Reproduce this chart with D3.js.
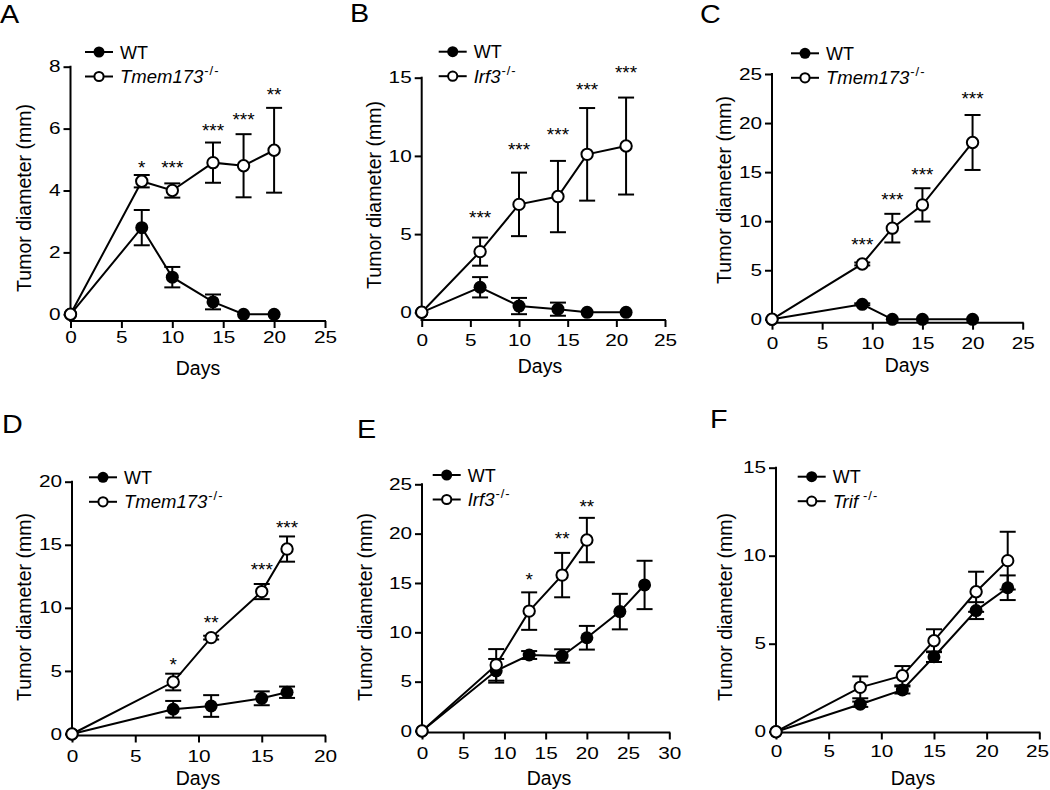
<!DOCTYPE html>
<html><head><meta charset="utf-8">
<script src="https://cdn.jsdelivr.net/npm/d3@7"></script>
<style>body{margin:0;background:#fff} svg{display:block}</style>
</head><body>
<svg id="chart" width="1050" height="790"></svg>
<script>
// ---------- DATA ----------
// Panel A
const daysA = [0, 7, 10, 14, 17, 20];
const wtA = [0, 2.8, 1.2, 0.4, 0, 0];
const wtSemA = [0, 0.57, 0.33, 0.24, 0, 0];
const koA = [0, 4.3, 4.0, 4.9, 4.8, 5.3];
const koSemA = [0, 0.2, 0.23, 0.65, 1.02, 1.37];
const starsA = ["", "*", "***", "***", "***", "**"];
const starLevelA = [null, 4.9, 4.9, 6.1, 6.45, 7.25];
// Panel B
const daysB = [0, 6, 10, 14, 17, 21];
const wtB = [0, 1.6, 0.4, 0.2, 0, 0];
const wtSemB = [0, 0.65, 0.52, 0.42, 0, 0];
const koB = [0, 3.88, 6.9, 7.4, 10.1, 10.63];
const koSemB = [0, 0.9, 2.03, 2.28, 2.96, 3.1];
const starsB = ["", "***", "***", "***", "***", "***"];
const starLevelB = [null, 6.33, 10.7, 11.66, 14.53, 15.6];
// Panel C
const daysC = [0, 9, 12, 15, 20];
const wtC = [0, 1.53, 0, 0, 0];
const wtSemC = [0, 0.1, 0, 0, 0];
const koC = [0, 5.64, 9.29, 11.66, 18.02];
const koSemC = [0, 0.15, 1.46, 1.7, 2.8];
const starsC = ["", "***", "***", "***", "***"];
const starLevelC = [null, 8.09, 12.68, 15.23, 22.96];
// Panel D
const daysD = [0, 8, 11, 15, 17];
const wtD = [0, 1.96, 2.22, 2.83, 3.31];
const wtSemD = [0, 0.66, 0.86, 0.55, 0.45];
const koD = [0, 4.12, 7.64, 11.29, 14.66];
const koSemD = [0, 0.66, 0.15, 0.6, 1.0];
const starsD = ["", "*", "**", "***", "***"];
const starLevelD = [null, 5.87, 9.18, 13.36, 16.72];
// Panel E
const wtDaysE = [0, 9, 13, 17, 20, 24, 27];
const wtE = [0, 6.1, 7.7, 7.6, 9.45, 12.1, 14.8];
const wtSemE = [0, 1.2, 0.4, 0.68, 1.2, 1.8, 2.45];
const koDaysE = [0, 9, 13, 17, 20];
const koE = [0, 6.7, 12.15, 15.8, 19.35];
const koSemE = [0, 1.6, 1.9, 2.25, 2.25];
const starsE = ["", "", "*", "**", "**"];
const starLevelE = [null, null, 15.8, 19.96, 23.23];
// Panel F
const daysF = [0, 8, 12, 15, 19, 22];
const wtF = [0, 1.56, 2.37, 4.26, 6.88, 8.18];
const wtSemF = [0, 0.15, 0.2, 0.3, 0.48, 0.7];
const koF = [0, 2.52, 3.18, 5.17, 7.95, 9.72];
const koSemF = [0, 0.62, 0.55, 0.65, 1.14, 1.64];
const starsF = ["", "", "", "", "", ""];
const starLevelF = [null, null, null, null, null, null];

const panelLetters = ["A", "B", "C", "D", "E", "F"];
const koNames = ["Tmem173", "Irf3", "Tmem173", "Tmem173", "Irf3", "Trif"];
const koSup = "-/-";
const wtName = "WT";
const yTitle = "Tumor diameter (mm)";
const xTitle = "Days";
const xMaxes = [25, 25, 25, 20, 30, 25];
const yMaxes = [8, 15, 25, 20, 25, 15];
const yStepsArr = [2, 5, 5, 5, 5, 5];

const panels = [
  {wtDays: daysA, wt: wtA, wtSem: wtSemA, koDays: daysA, ko: koA, koSem: koSemA, stars: starsA, levels: starLevelA},
  {wtDays: daysB, wt: wtB, wtSem: wtSemB, koDays: daysB, ko: koB, koSem: koSemB, stars: starsB, levels: starLevelB},
  {wtDays: daysC, wt: wtC, wtSem: wtSemC, koDays: daysC, ko: koC, koSem: koSemC, stars: starsC, levels: starLevelC},
  {wtDays: daysD, wt: wtD, wtSem: wtSemD, koDays: daysD, ko: koD, koSem: koSemD, stars: starsD, levels: starLevelD},
  {wtDays: wtDaysE, wt: wtE, wtSem: wtSemE, koDays: koDaysE, ko: koE, koSem: koSemE, stars: starsE, levels: starLevelE},
  {wtDays: daysF, wt: wtF, wtSem: wtSemF, koDays: daysF, ko: koF, koSem: koSemF, stars: starsF, levels: starLevelF}
];

// ---------- LAYOUT ----------
const layouts = [
  {left: 70.5, right: 325, yTop: 66.7, yZero: 314.3, axisY: 321, xPad: 4, letterX: 0, letterY: 23, legX: 99, legY: 52, titleX: 31, titleY: 198, daysX: 198, daysY: 375},
  {left: 421.7, right: 665, yTop: 77.7, yZero: 312.3, axisY: 320, xPad: 8, letterX: 350, letterY: 22, legX: 452.7, legY: 51.7, titleX: 381, titleY: 195, daysX: 540, daysY: 373},
  {left: 772, right: 1022.7, yTop: 74, yZero: 319.3, axisY: 322.7, xPad: 8, letterX: 700, letterY: 23, legX: 805, legY: 53.3, titleX: 731, titleY: 190, daysX: 907, daysY: 372},
  {left: 72, right: 325, yTop: 481.7, yZero: 734, axisY: 735.5, xPad: 8, letterX: 2, letterY: 433, legX: 103, legY: 477.3, titleX: 31, titleY: 607, daysX: 198, daysY: 785},
  {left: 422, right: 669.3, yTop: 484.3, yZero: 731, axisY: 732.5, xPad: 8, letterX: 357, letterY: 438, legX: 446.7, legY: 475, titleX: 372, titleY: 607, daysX: 549, daysY: 785},
  {left: 776, right: 1039.3, yTop: 467.7, yZero: 731.7, axisY: 732.5, xPad: 6, letterX: 710, letterY: 428, legX: 811.7, legY: 476.7, titleX: 732, titleY: 607, daysX: 913, daysY: 785}
];

const FONT = "'Liberation Sans', Arial, Helvetica, sans-serif";
const SX = 1.3; // horizontal stretch of tick labels
const W = 1050;
const svg = d3.select("#chart");

panels.forEach((p, i) => {
  const L = layouts[i];
  const xMax = xMaxes[i], yMax = yMaxes[i], yStep = yStepsArr[i];
  const x = d3.scaleLinear().domain([0, xMax]).range([L.left, L.right]);
  const y = d3.scaleLinear().domain([0, yMax]).range([L.yZero, L.yTop]);
  const g = svg.append("g");

  // panel letter
  g.append("text").text(panelLetters[i])
    .attr("transform", `translate(${L.letterX},${L.letterY}) scale(1.15,1)`)
    .attr("font-family", FONT).attr("font-size", 25).attr("fill", "#000");

  // x axis ticks
  const gx = g.append("g").attr("transform", `translate(0,${L.axisY})`)
    .call(d3.axisBottom(x).tickValues(d3.range(0, xMax + 0.01, 5)).tickSize(7).tickPadding(L.xPad).tickSizeOuter(0));
  gx.select(".domain").remove();
  gx.selectAll(".tick line").attr("stroke", "#000").attr("stroke-width", 2);
  gx.selectAll(".tick text").attr("font-family", FONT).attr("font-size", 16).attr("fill", "#000")
    .attr("transform", `scale(${SX},1)`);
  // keep labels inside the picture
  gx.selectAll(".tick").each(function () {
    const txt = d3.select(this).select("text");
    const bb = this.getBoundingClientRect();
    if (bb.right > W - 1) {
      const shift = (bb.right - (W - 1)) / SX;
      txt.attr("x", -shift);
    }
  });

  // y axis ticks
  const gy = g.append("g").attr("transform", `translate(${L.left},0)`)
    .call(d3.axisLeft(y).tickValues(d3.range(0, yMax + 0.01, yStep)).tickSize(7).tickSizeOuter(0));
  gy.select(".domain").remove();
  gy.selectAll(".tick line").attr("stroke", "#000").attr("stroke-width", 2);
  gy.selectAll(".tick text").attr("font-family", FONT).attr("font-size", 16).attr("fill", "#000")
    .attr("x", -10 / SX).attr("transform", `scale(${SX},1)`);

  // axis lines
  g.append("line").attr("x1", L.left).attr("x2", L.left).attr("y1", L.yTop - 1).attr("y2", L.axisY + 1)
    .attr("stroke", "#000").attr("stroke-width", 2);
  g.append("line").attr("x1", L.left - 1).attr("x2", L.right + 1).attr("y1", L.axisY).attr("y2", L.axisY)
    .attr("stroke", "#000").attr("stroke-width", 2);

  // axis titles
  g.append("text").text(yTitle)
    .attr("transform", `translate(${L.titleX},${L.titleY}) rotate(-90)`)
    .attr("text-anchor", "middle").attr("font-family", FONT).attr("font-size", 19.5).attr("fill", "#000");
  g.append("text").text(xTitle).attr("x", L.daysX).attr("y", L.daysY)
    .attr("text-anchor", "middle").attr("font-family", FONT).attr("font-size", 19.5).attr("fill", "#000");

  const wtPts = p.wtDays.map((d, k) => ({day: d, v: p.wt[k], s: p.wtSem[k]}));
  const koPts = p.koDays.map((d, k) => ({day: d, v: p.ko[k], s: p.koSem[k], star: p.stars[k], lvl: p.levels[k]}));
  const line = d3.line().x(d => x(d.day)).y(d => y(d.v));

  [wtPts, koPts].forEach(pts => {
    g.append("path").datum(pts).attr("d", line).attr("fill", "none").attr("stroke", "#000").attr("stroke-width", 2);
  });

  const capW = 8;
  [wtPts, koPts].forEach(pts => {
    const eb = g.append("g").attr("stroke", "#000").attr("stroke-width", 2);
    pts.filter(d => d.s > 0).forEach(d => {
      const cx = x(d.day), t = y(d.v + d.s), b = y(d.v - d.s);
      eb.append("line").attr("x1", cx).attr("x2", cx).attr("y1", t).attr("y2", b);
      eb.append("line").attr("x1", cx - capW).attr("x2", cx + capW).attr("y1", t).attr("y2", t);
      eb.append("line").attr("x1", cx - capW).attr("x2", cx + capW).attr("y1", b).attr("y2", b);
    });
  });

  g.selectAll(".wtm").data(wtPts).enter().append("circle")
    .attr("cx", d => x(d.day)).attr("cy", d => y(d.v)).attr("r", 6.5).attr("fill", "#000");
  g.selectAll(".kom").data(koPts).enter().append("circle")
    .attr("cx", d => x(d.day)).attr("cy", d => y(d.v)).attr("r", 5.7).attr("fill", "#fff")
    .attr("stroke", "#000").attr("stroke-width", 2);

  // significance stars
  g.selectAll(".star").data(koPts.filter(d => d.star)).enter().append("text")
    .text(d => d.star).attr("x", d => x(d.day)).attr("y", d => y(d.lvl) + 11)
    .attr("text-anchor", "middle").attr("font-family", FONT).attr("font-size", 19).attr("fill", "#000");

  // legend
  const rows = [L.legY, L.legY + 24.5];
  rows.forEach((ry, r) => {
    g.append("line").attr("x1", L.legX - 14).attr("x2", L.legX + 14).attr("y1", ry).attr("y2", ry)
      .attr("stroke", "#000").attr("stroke-width", 2);
    if (r === 0) {
      g.append("circle").attr("cx", L.legX).attr("cy", ry).attr("r", 5.5).attr("fill", "#000");
      g.append("text").text(wtName).attr("x", L.legX + 21).attr("y", ry + 6.5)
        .attr("font-family", FONT).attr("font-size", 18).attr("fill", "#000");
    } else {
      g.append("circle").attr("cx", L.legX).attr("cy", ry).attr("r", 4.6).attr("fill", "#fff")
        .attr("stroke", "#000").attr("stroke-width", 2);
      const t = g.append("text").attr("x", L.legX + 21).attr("y", ry + 6.5)
        .attr("font-family", FONT).attr("font-size", 18.5).attr("fill", "#000");
      t.append("tspan").text(koNames[i]).attr("font-style", "italic");
      t.append("tspan").text(koSup).attr("font-size", 13).attr("dy", -8)
        .attr("dx", koNames[i] === "Trif" ? 5 : 1).attr("letter-spacing", 1);
    }
  });
});
</script>
</body></html>
